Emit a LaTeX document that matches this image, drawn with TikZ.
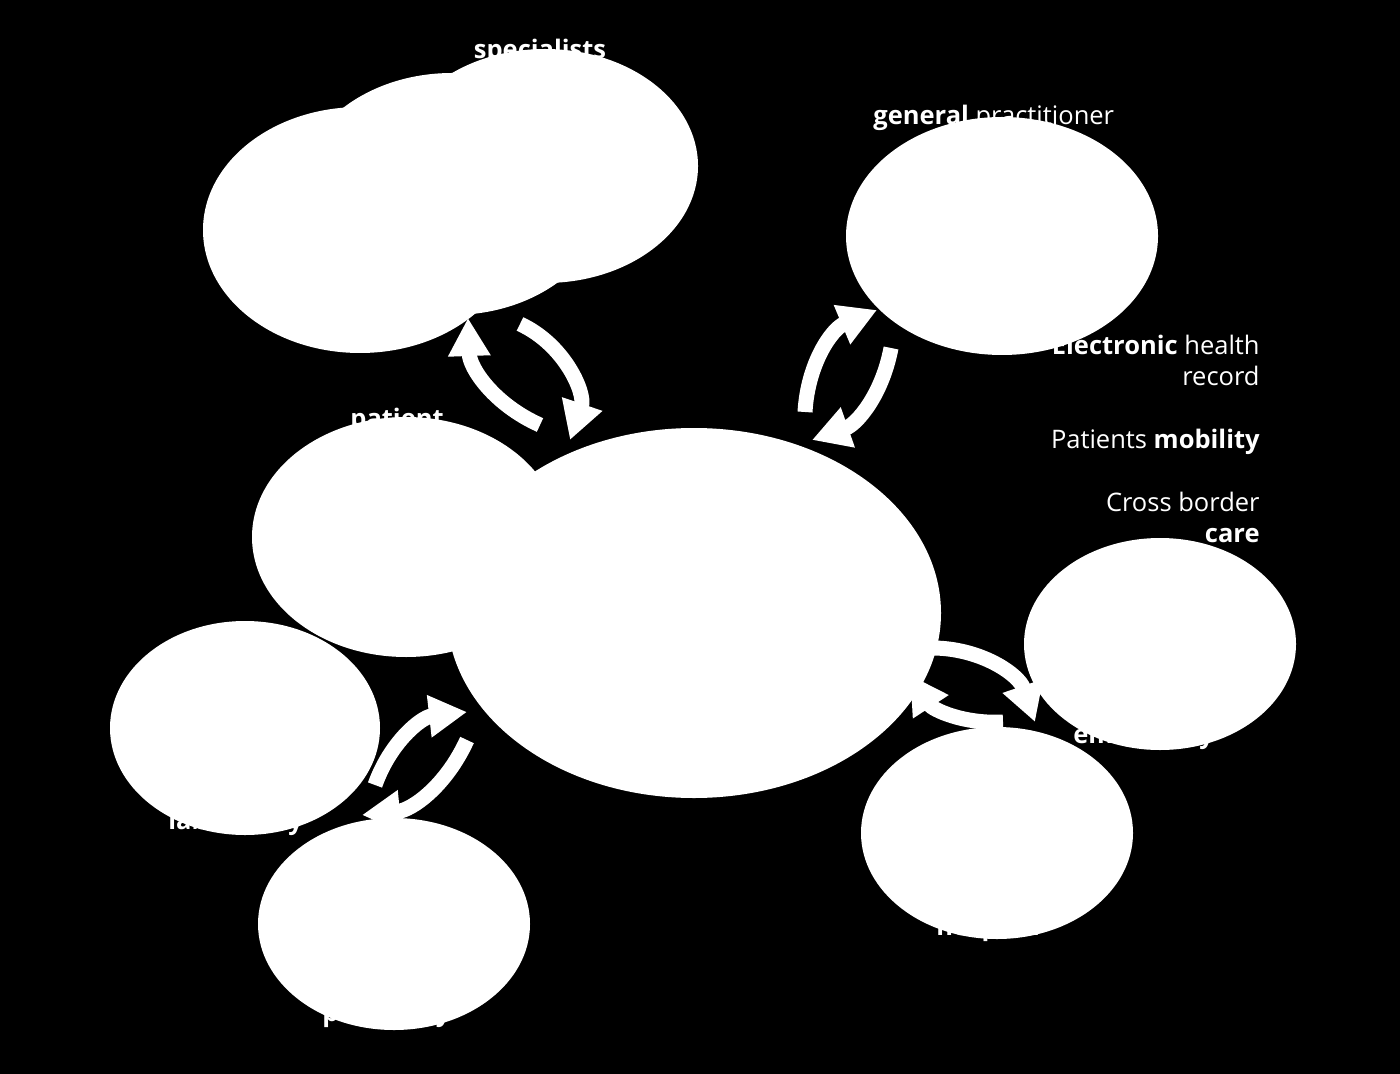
\documentclass[tikz,border=0pt]{standalone}
\usepackage{fontspec}
\setmainfont{Open Sans}
\usetikzlibrary{arrows.meta,shapes.geometric}
\tikzset{
  blob/.style={ellipse,fill=white,inner sep=0pt,outer sep=0pt},
  flow/.style={white,line width=7.5pt,-{Triangle[width=20pt,length=19pt]}},
  lbl/.style={text=white,font=\fontsize{12.75}{15.5}\selectfont,inner sep=0pt},
  note/.style={lbl,align=right,anchor=base east},
}

\begin{document}
\begin{tikzpicture}[x=0.5pt,y=-0.5pt]
\fill[black] (0,0) rectangle (1400,1074);
% labels first, the blobs hide most of them
\node[lbl,anchor=base] (tsp) at (540,59) {\textbf{specialists}};
\node[lbl,anchor=base west] (tgp) at (873,125) {\textbf{general} practitioner};
\node[lbl,anchor=base] (tpat) at (397,427) {\textbf{patient}};
\node[lbl,anchor=base west] (tlab) at (168,829) {\textbf{laboratory}};
\node[lbl,anchor=base west] (tph) at (322,1021) {\textbf{pharmacy}};
\node[lbl,anchor=base west] (tem) at (1073,743) {\textbf{emergency}};
\node[lbl,anchor=base west] (tho) at (936,935) {\textbf{hospital}};
\node[note] (ehr) at (1260,386) {\textbf{Electronic} health\\record};
\node[note] (mob) at (1260,448) {Patients \textbf{mobility}};
\node[note] (cbc) at (1260,542) {Cross border\\\textbf{care}};
% blobs
\foreach \n/\x/\y/\w/\h in {sp3/545/166/153/117, sp2/452/194/155/121, sp1/360/230/157/123,
    gp/1002/236/156/119, pat/406/537/154/120, hub/694/613/247/185,
    lab/245/728/135/107, ph/394/924/136/106, em/1160/644/136/106, ho/997/833/136/106}
  \node[blob,minimum width=\w pt,minimum height=\h pt] (\n) at (\x,\y) {};
% arrow ends
\coordinate (a1) at (540,425); \coordinate (a2) at (468,318);
\coordinate (a3) at (520,324); \coordinate (a4) at (570,440);
\coordinate (b1) at (805,412); \coordinate (b2) at (877,310);
\coordinate (b3) at (891,348); \coordinate (b4) at (812,440);
\coordinate (c1) at (930,648); \coordinate (c2) at (1035,722);
\coordinate (c3) at (1003,722); \coordinate (c4) at (910,675);
\coordinate (d1) at (375,785); \coordinate (d2) at (467,712);
\coordinate (d3) at (467,740); \coordinate (d4) at (362,815);
\draw[flow] (a1) to[bend left=32] (a2);
\draw[flow] (a3) to[bend left=42] (a4);
\draw[flow] (b1) to[bend left=32] (b2);
\draw[flow] (b3) to[bend left=30] (b4);
\draw[flow] (c1) to[bend left=36] (c2);
\draw[flow] (c3) to[bend left=30] (c4);
\draw[flow] (d1) to[bend left=32] (d2);
\draw[flow] (d3) to[bend left=30] (d4);
\end{tikzpicture}
\end{document}
